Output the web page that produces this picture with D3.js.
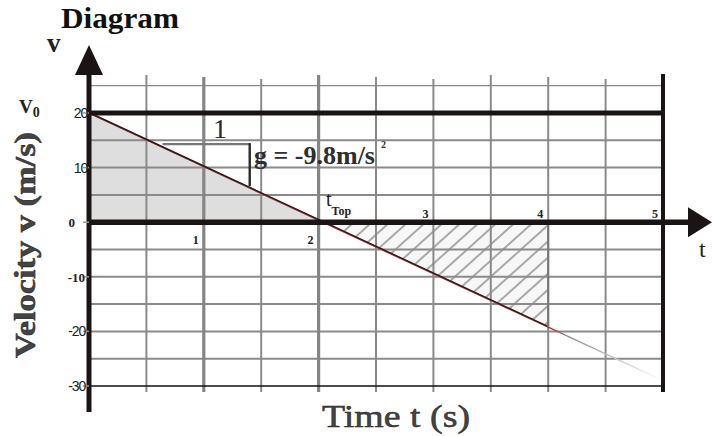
<!DOCTYPE html>
<html>
<head>
<meta charset="utf-8">
<script src="https://cdn.jsdelivr.net/npm/d3@7"></script>
<style>
  html, body { margin: 0; padding: 0; background: #fff; }
  svg { display: block; }
  .serif { font-family: "Liberation Serif", "Times New Roman", Times, serif; }
  .sans { font-family: "Liberation Sans", Arial, Helvetica, sans-serif; }
</style>
</head>
<body>
<svg id="chart" width="712" height="436"></svg>
<script>
// ---- data ----
const timeTicks = [1, 2, 3, 4, 5];
const velocityTicks = [20, 10, 0, -10, -20, -30];
const vGridTimes = [0.5, 1, 1.5, 2, 2.5, 3, 3.5, 4, 4.5];
const boldGridTimes = [1, 2];
const hGridValues = [25, 15, 10, 5, -5, -10, -15, -20, -25];
const lineTimes = [0, 2.04, 4, 5];
const lineVelocities = [20, 0, -19.2, -29];
const v0 = 20;
const tTop = 2.04;
const tEnd = 4;
const vEnd = -19.2;
const slopeRun = [0.64, 1.40];     // horizontal leg of slope triangle (s)
const slopeV = [14.3, 6.6];        // vertical leg values (m/s)

// ---- scales ----
const x = d3.scaleLinear().domain([0, 5]).range([89, 663]);
const y = d3.scaleLinear().domain([-30, 20]).range([386, 113]);

const svg = d3.select("#chart");
const defs = svg.append("defs");

// hatch pattern
const pat = defs.append("pattern")
  .attr("id", "hatch").attr("patternUnits", "userSpaceOnUse")
  .attr("width", 12).attr("height", 12)
  .attr("patternTransform", "rotate(-42)");
pat.append("rect").attr("width", 12).attr("height", 12).attr("fill", "#f7f7f7");
pat.append("line").attr("x1", 0).attr("y1", 6).attr("x2", 12).attr("y2", 6)
  .attr("stroke", "#a8a8a8").attr("stroke-width", 2);
defs.append("filter").attr("id", "blur")
  .append("feGaussianBlur").attr("stdDeviation", 0.6);

// fade gradient for the line beyond t=4
const grad = defs.append("linearGradient").attr("id", "fade")
  .attr("gradientUnits", "userSpaceOnUse")
  .attr("x1", x(tEnd)).attr("y1", y(vEnd))
  .attr("x2", x(5)).attr("y2", y(-29));
grad.append("stop").attr("offset", "0%").attr("stop-color", "#b02020");
grad.append("stop").attr("offset", "15%").attr("stop-color", "#888");
grad.append("stop").attr("offset", "100%").attr("stop-color", "#fff");

// ---- filled regions ----
svg.append("path")
  .attr("d", d3.line()([[x(0), y(v0)], [x(0), y(0)], [x(tTop), y(0)]]) + "Z")
  .attr("fill", "#dedede");
svg.append("path")
  .attr("d", d3.line()([[x(tTop), y(0)], [x(tEnd), y(0)], [x(tEnd), y(vEnd)]]) + "Z")
  .attr("fill", "url(#hatch)").attr("filter", "url(#blur)");

// ---- grid ----
svg.append("line").attr("x1", x(0)).attr("x2", x(5))
  .attr("y1", y(25)).attr("y2", y(25))
  .attr("stroke", "#8a8a8a").attr("stroke-width", 1.2);
svg.selectAll(".hg").data(hGridValues.filter(d => d !== 25)).enter().append("line")
  .attr("x1", x(0)).attr("x2", x(5))
  .attr("y1", d => y(d)).attr("y2", d => y(d))
  .attr("stroke", "#8a8a8a").attr("stroke-width", 2);
svg.selectAll(".vg").data(vGridTimes).enter().append("line")
  .attr("x1", d => x(d)).attr("x2", d => x(d))
  .attr("y1", (d, i) => 75 + (i % 3) * 2).attr("y2", y(-30) + 6)
  .attr("stroke", d => boldGridTimes.includes(d) ? "#858585" : "#8a8a8a")
  .attr("stroke-width", d => boldGridTimes.includes(d) ? 3.2 : 2);

// bottom line at -30
svg.append("line").attr("x1", x(0)).attr("x2", x(5))
  .attr("y1", y(-30)).attr("y2", y(-30))
  .attr("stroke", "#111").attr("stroke-width", 1.5);

// ---- velocity line ----
const lineData = lineTimes.map((t, i) => [t, lineVelocities[i]]);
const lineGen = d3.line().x(d => x(d[0])).y(d => y(d[1]));
svg.append("path")
  .attr("d", lineGen(lineData.slice(0, 3)))
  .attr("fill", "none").attr("stroke", "#b33").attr("stroke-width", 1.8);
svg.append("path")
  .attr("d", lineGen(lineData.slice(0, 3)))
  .attr("fill", "none").attr("stroke", "#222").attr("stroke-width", 1.4)
  .attr("transform", "translate(0,-0.5)");
svg.append("path")
  .attr("d", lineGen(lineData.slice(2)))
  .attr("fill", "none").attr("stroke", "url(#fade)").attr("stroke-width", 1.4);

// hatch boundary (right edge at t=4)
svg.append("line").attr("x1", x(tEnd)).attr("x2", x(tEnd))
  .attr("y1", y(0)).attr("y2", y(vEnd))
  .attr("stroke", "#777").attr("stroke-width", 2);

// ---- thick black lines ----
svg.append("line").attr("x1", x(0)).attr("x2", x(5))
  .attr("y1", y(v0)).attr("y2", y(v0))
  .attr("stroke", "#1a1414").attr("stroke-width", 5);
svg.append("line").attr("x1", x(0)).attr("x2", 690)
  .attr("y1", y(0)).attr("y2", y(0))
  .attr("stroke", "#1a1414").attr("stroke-width", 5.5);
svg.append("path")
  .attr("d", `M712,${y(0)} L688,${y(0) - 15} L688,${y(0) + 15} Z`)
  .attr("fill", "#1a1414");
svg.append("line").attr("x1", x(5)).attr("x2", x(5))
  .attr("y1", 74).attr("y2", y(-30) + 6)
  .attr("stroke", "#1a1414").attr("stroke-width", 4);
// y axis
svg.append("line").attr("x1", x(0)).attr("x2", x(0))
  .attr("y1", 72).attr("y2", 412)
  .attr("stroke", "#1a1414").attr("stroke-width", 5);
svg.append("path")
  .attr("d", `M${x(0)},45 L${x(0) - 14},75 L${x(0) + 14},75 Z`)
  .attr("fill", "#1a1414");

// small left ticks
svg.selectAll(".lt").data(velocityTicks).enter().append("line")
  .attr("x1", x(0) - 6).attr("x2", x(0))
  .attr("y1", d => y(d)).attr("y2", d => y(d))
  .attr("stroke", "#999").attr("stroke-width", 1.5);

// ---- slope triangle ----
svg.append("line").attr("x1", x(slopeRun[0])).attr("x2", x(slopeRun[1]))
  .attr("y1", y(slopeV[0])).attr("y2", y(slopeV[0]))
  .attr("stroke", "#777").attr("stroke-width", 2.2);
svg.append("line").attr("x1", x(slopeRun[1])).attr("x2", x(slopeRun[1]))
  .attr("y1", y(slopeV[0]) - 1).attr("y2", y(slopeV[1]))
  .attr("stroke", "#2a2a2a").attr("stroke-width", 2.4);

// ---- text ----
const isSerifTick = d => (d === 0 || d === -10);

svg.append("text").text("Diagram").attr("class", "serif")
  .attr("x", 61).attr("y", 28)
  .attr("font-weight", "bold").attr("font-size", 29)
  .attr("textLength", 118).attr("lengthAdjust", "spacingAndGlyphs").attr("fill", "#111");
svg.append("text").text("v").attr("class", "serif")
  .attr("x", 47).attr("y", 52)
  .attr("font-weight", "bold").attr("font-size", 27).attr("fill", "#222");

const v0t = svg.append("text").attr("class", "serif").attr("x", 19).attr("y", 113)
  .attr("font-weight", "bold").attr("fill", "#222");
v0t.append("tspan").text("V").attr("font-size", 19);
v0t.append("tspan").text("0").attr("font-size", 14).attr("dy", 4);

// y tick labels
svg.selectAll(".yl").data(velocityTicks).enter().append("text")
  .text(d => d)
  .attr("class", d => isSerifTick(d) ? "serif" : "sans")
  .attr("x", d => d === 0 ? 75 : (d === 10 || d === 20 ? 87 : 85))
  .attr("y", d => y(d) + 5)
  .attr("text-anchor", "end")
  .attr("font-weight", d => isSerifTick(d) ? "bold" : "normal")
  .attr("font-size", d => isSerifTick(d) ? 13 : 14)
  .attr("letter-spacing", d => isSerifTick(d) ? 0 : -1.2)
  .attr("fill", "#222");

// x tick labels
svg.selectAll(".xl").data(timeTicks).enter().append("text")
  .text(d => d).attr("class", "serif")
  .attr("x", d => x(d) - 11)
  .attr("y", d => d <= 2 ? y(0) + 22 : y(0) - 4)
  .attr("font-weight", "bold").attr("font-size", 12)
  .attr("fill", "#222");

// axis titles
svg.append("text").text("Velocity  v (m/s)").attr("class", "serif")
  .attr("transform", "translate(35,245) rotate(-90)")
  .attr("text-anchor", "middle")
  .attr("font-weight", "bold").attr("font-size", 30)
  .attr("textLength", 226).attr("lengthAdjust", "spacingAndGlyphs")
  .attr("fill", "#444").attr("stroke", "#222").attr("stroke-width", 0.5);
svg.append("text").text("Time  t  (s)").attr("class", "serif")
  .attr("x", 396).attr("y", 427)
  .attr("text-anchor", "middle")
  .attr("font-size", 32)
  .attr("textLength", 148).attr("lengthAdjust", "spacingAndGlyphs")
  .attr("fill", "#444").attr("stroke", "#222").attr("stroke-width", 0.5);
svg.append("text").text("t").attr("class", "serif")
  .attr("x", 699).attr("y", 257)
  .attr("font-size", 24).attr("fill", "#222");

// annotations
svg.append("text").text("1").attr("class", "serif")
  .attr("x", 220).attr("y", 138).attr("text-anchor", "middle")
  .attr("font-size", 28).attr("fill", "#2a2a2a");
svg.append("text").text("g = -9.8m/s").attr("class", "serif")
  .attr("x", 254).attr("y", 164)
  .attr("font-weight", "bold").attr("fill", "#2e2e2e")
  .attr("font-size", 26);
svg.append("text").text("2").attr("class", "serif")
  .attr("x", 381).attr("y", 148)
  .attr("font-weight", "bold").attr("font-size", 10).attr("fill", "#2e2e2e");

const tt = svg.append("text").attr("class", "serif").attr("x", 326).attr("y", 206)
  .attr("fill", "#222");
tt.append("tspan").text("t").attr("font-size", 20);
tt.append("tspan").text("Top").attr("font-size", 12).attr("font-weight", "bold").attr("dy", 9);
</script>
</body>
</html>
